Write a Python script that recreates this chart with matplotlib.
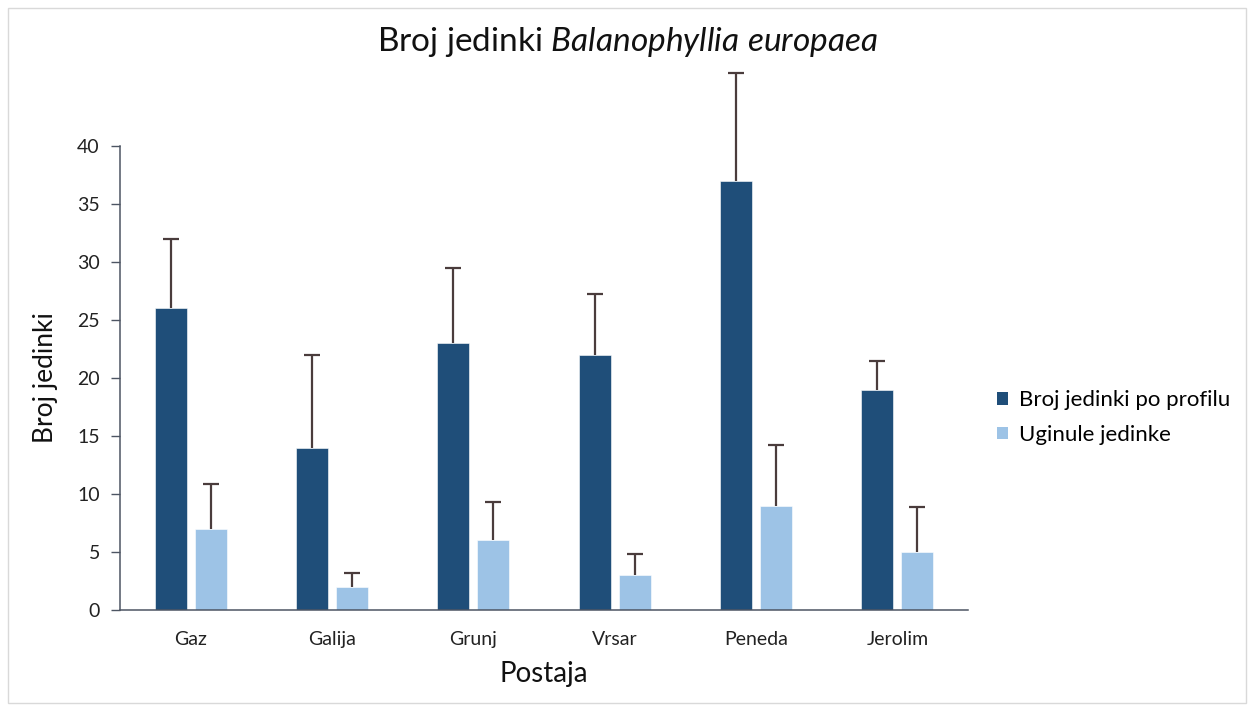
import matplotlib.pyplot as plt
from matplotlib.patches import Patch, Rectangle
import numpy as np

plt.rcParams["font.family"] = ["Lato", "DejaVu Sans"]
plt.rcParams["mathtext.fontset"] = "custom"
plt.rcParams["mathtext.rm"] = "Lato"
plt.rcParams["mathtext.it"] = "Lato:italic"

stations = ["Gaz", "Galija", "Grunj", "Vrsar", "Peneda", "Jerolim"]
total = [26, 14, 23, 22, 37, 19]
total_err = [6.0, 8.0, 6.5, 5.2, 9.3, 2.5]
dead = [7, 2, 6, 3, 9, 5]
dead_err = [3.9, 1.2, 3.35, 1.85, 5.25, 3.9]

dark = "#1f4e79"
light = "#9dc3e6"
err_col = "#4a3c3c"
axis_col = "#4d5563"

fig = plt.figure(figsize=(12.48, 7.07), dpi=100)
ax = fig.add_axes([120 / 1248, 1 - 610 / 707, 848 / 1248, 464 / 707])

x = np.arange(len(stations))
w = 0.226
off = 0.1415

ax.bar(x - off, total, w, color=dark, edgecolor="white", linewidth=0.4, zorder=2)
ax.bar(x + off, dead, w, color=light, edgecolor="white", linewidth=0.4, zorder=2)

for xs, ys, es in [(x - off, total, total_err), (x + off, dead, dead_err)]:
    eb = ax.errorbar(xs, ys, yerr=[np.zeros(len(es)), es], fmt="none",
                     ecolor=err_col, elinewidth=1.6, capsize=5.8, capthick=1.6,
                     zorder=3)
    caps = eb.lines[1]
    caps[0].set_visible(False)  # no cap at the bar top
    for art in list(caps) + list(eb.lines[2]):
        art.set_clip_on(False)

ax.set_xlim(-0.5, len(stations) - 0.5)
ax.set_ylim(0, 40)
ax.set_yticks(range(0, 41, 5))
ax.set_xticks(x)
ax.set_xticklabels(stations)

for s in ["top", "right"]:
    ax.spines[s].set_visible(False)
for s in ["left", "bottom"]:
    ax.spines[s].set_color(axis_col)
    ax.spines[s].set_linewidth(1.1)

ax.tick_params(axis="y", length=6.5, width=1.0, color=axis_col, pad=8,
               labelsize=14, labelcolor="#222222")
ax.tick_params(axis="x", length=0, pad=15, labelsize=14, labelcolor="#222222")

ax.set_ylabel("Broj jedinki", fontsize=19, color="#111111")
ax.yaxis.set_label_coords(-0.073, 0.5)
ax.set_xlabel("Postaja", fontsize=20, color="#111111")
ax.xaxis.set_label_coords(0.5, -0.11)

fig.text(627 / 1248, 1 - 42 / 707, r"Broj jedinki $\it{Balanophyllia\ europaea}$",
         ha="center", va="center", fontsize=24, color="#111111")

handles = [Patch(facecolor=dark), Patch(facecolor=light)]
fig.legend(handles, ["Broj jedinki po profilu", "Uginule jedinke"],
           loc="center left", bbox_to_anchor=(997 / 1248, 1 - 417.5 / 707),
           frameon=False, fontsize=16, handlelength=0.5, handleheight=0.5,
           handletextpad=0.5, labelspacing=0.65, borderpad=0, borderaxespad=0)

fig.patches.append(Rectangle((8 / 1248, 4 / 707), 1238 / 1248, 695 / 707,
                             transform=fig.transFigure, fill=False,
                             edgecolor="#d9d9d9", linewidth=1.0))

fig.savefig("out.png", dpi=100)
